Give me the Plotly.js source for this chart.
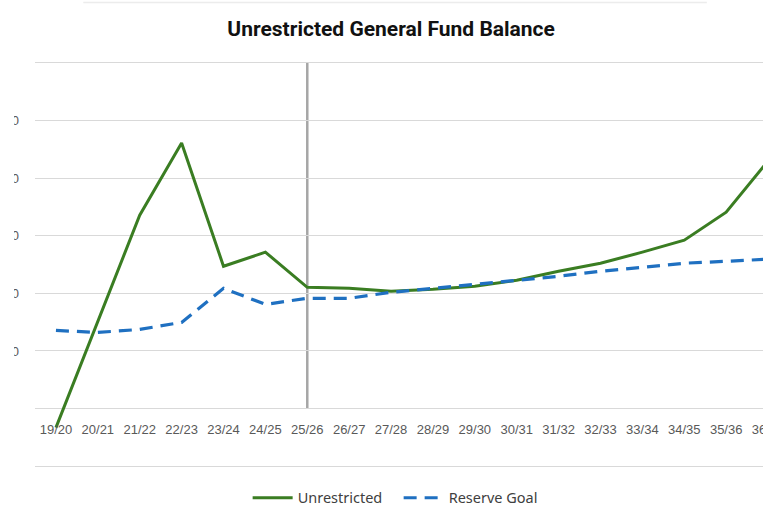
<!DOCTYPE html>
<html>
<head>
<meta charset="utf-8">
<script src="https://cdn.plot.ly/plotly-3.0.1.min.js"></script>
<style>
  html, body { margin: 0; padding: 0; width: 763px; height: 509px; overflow: hidden; background: #ffffff; position: relative; }
  #chart { position: absolute; left: -100px; top: 0; width: 963px; height: 509px; }
  #mask { position: absolute; left: 0; top: 0; width: 14px; height: 509px; background: #ffffff; }
</style>
</head>
<body>
<div id="chart"></div>
<div id="mask"></div>
<script>
// ---- data ----
const categories = ['19/20','20/21','21/22','22/23','23/24','24/25','25/26','26/27','27/28',
  '28/29','29/30','30/31','31/32','32/33','33/34','34/35','35/36','36/37'];
const unrestricted = [-1650000, 7570000, 16780000, 23040000, 12350000, 13570000, 10520000, 10430000,
  10170000, 10350000, 10610000, 11130000, 11910000, 12610000, 13570000, 14610000, 17040000, 21480000];
const reserveGoal = [6780000, 6610000, 6870000, 7480000, 10430000, 9040000, 9570000, 9570000,
  10090000, 10430000, 10780000, 11130000, 11480000, 11910000, 12260000, 12610000, 12780000, 12960000];
const yTickVals = [-5000000, 0, 5000000, 10000000, 15000000, 20000000, 25000000, 30000000];
const yTickText = ['', '', '$5,000,000', '$10,000,000', '$15,000,000', '$20,000,000', '$25,000,000', ''];
const yRange = [-5150000, 30150000];
const dividerCategory = '25/26';
const seriesNames = ['Unrestricted', 'Reserve Goal'];
const chartTitle = 'Unrestricted General Fund Balance';

const traces = [
  { type: 'scatter', mode: 'lines', name: seriesNames[0], x: categories, y: unrestricted,
    line: { color: '#3a7d22', width: 3 }, hoverinfo: 'x+y' },
  { type: 'scatter', mode: 'lines', name: seriesNames[1], x: categories, y: reserveGoal,
    line: { color: '#1f70c1', width: 3.2, dash: '13px,8px' }, hoverinfo: 'x+y' }
];

const zeroFrac = (0 - yRange[0]) / (yRange[1] - yRange[0]);
const topFrac = (yTickVals[yTickVals.length - 1] - yRange[0]) / (yRange[1] - yRange[0]);

const layout = {
  width: 963, height: 509,
  paper_bgcolor: '#ffffff', plot_bgcolor: '#ffffff',
  margin: { l: 135, r: 74, t: 61, b: 41, pad: 0, autoexpand: false },
  title: { text: '<b>' + chartTitle + '</b>', xref: 'container', x: 0.51, xanchor: 'center',
    yref: 'container', y: 0.943, yanchor: 'middle',
    font: { family: 'Liberation Sans Narrow, Roboto, Arial, sans-serif', size: 21, color: '#111111' } },
  showlegend: true,
  legend: { orientation: 'h', xref: 'container', x: 0.5178, xanchor: 'center',
    yref: 'container', y: 0.022, yanchor: 'middle',
    font: { family: 'Noto Sans, Liberation Sans, sans-serif', size: 14.5, color: '#404040' },
    itemwidth: 40, entrywidth: 96, traceorder: 'normal', bgcolor: 'rgba(0,0,0,0)' },
  xaxis: { type: 'category', categoryorder: 'array', categoryarray: categories,
    range: [-0.5, categories.length - 0.5], anchor: 'free', position: zeroFrac,
    showgrid: false, showline: false, zeroline: false, ticks: '',
    ticklabelstandoff: 11,
    tickfont: { family: 'Liberation Sans, Arial, sans-serif', size: 13, color: '#595959' } },
  yaxis: { range: yRange, tickvals: yTickVals, ticktext: yTickText,
    showgrid: true, gridcolor: '#d9d9d9', gridwidth: 1,
    zeroline: true, zerolinecolor: '#d9d9d9', zerolinewidth: 1,
    showline: false, ticks: '', ticklabelstandoff: 15,
    tickfont: { family: 'Liberation Sans, Arial, sans-serif', size: 13, color: '#595959' } },
  shapes: [
    { type: 'line', xref: 'x', yref: 'paper', x0: dividerCategory, x1: dividerCategory,
      y0: zeroFrac, y1: topFrac, line: { color: '#a6a6a6', width: 2.5 }, layer: 'below' },
    { type: 'line', xref: 'paper', yref: 'paper', x0: 0.064, x1: 0.891, y0: 1.144, y1: 1.144,
      line: { color: '#ececec', width: 1.5 }, layer: 'below' }
  ]
};

Plotly.newPlot('chart', traces, layout, { displayModeBar: false, staticPlot: true });
</script>
</body>
</html>
